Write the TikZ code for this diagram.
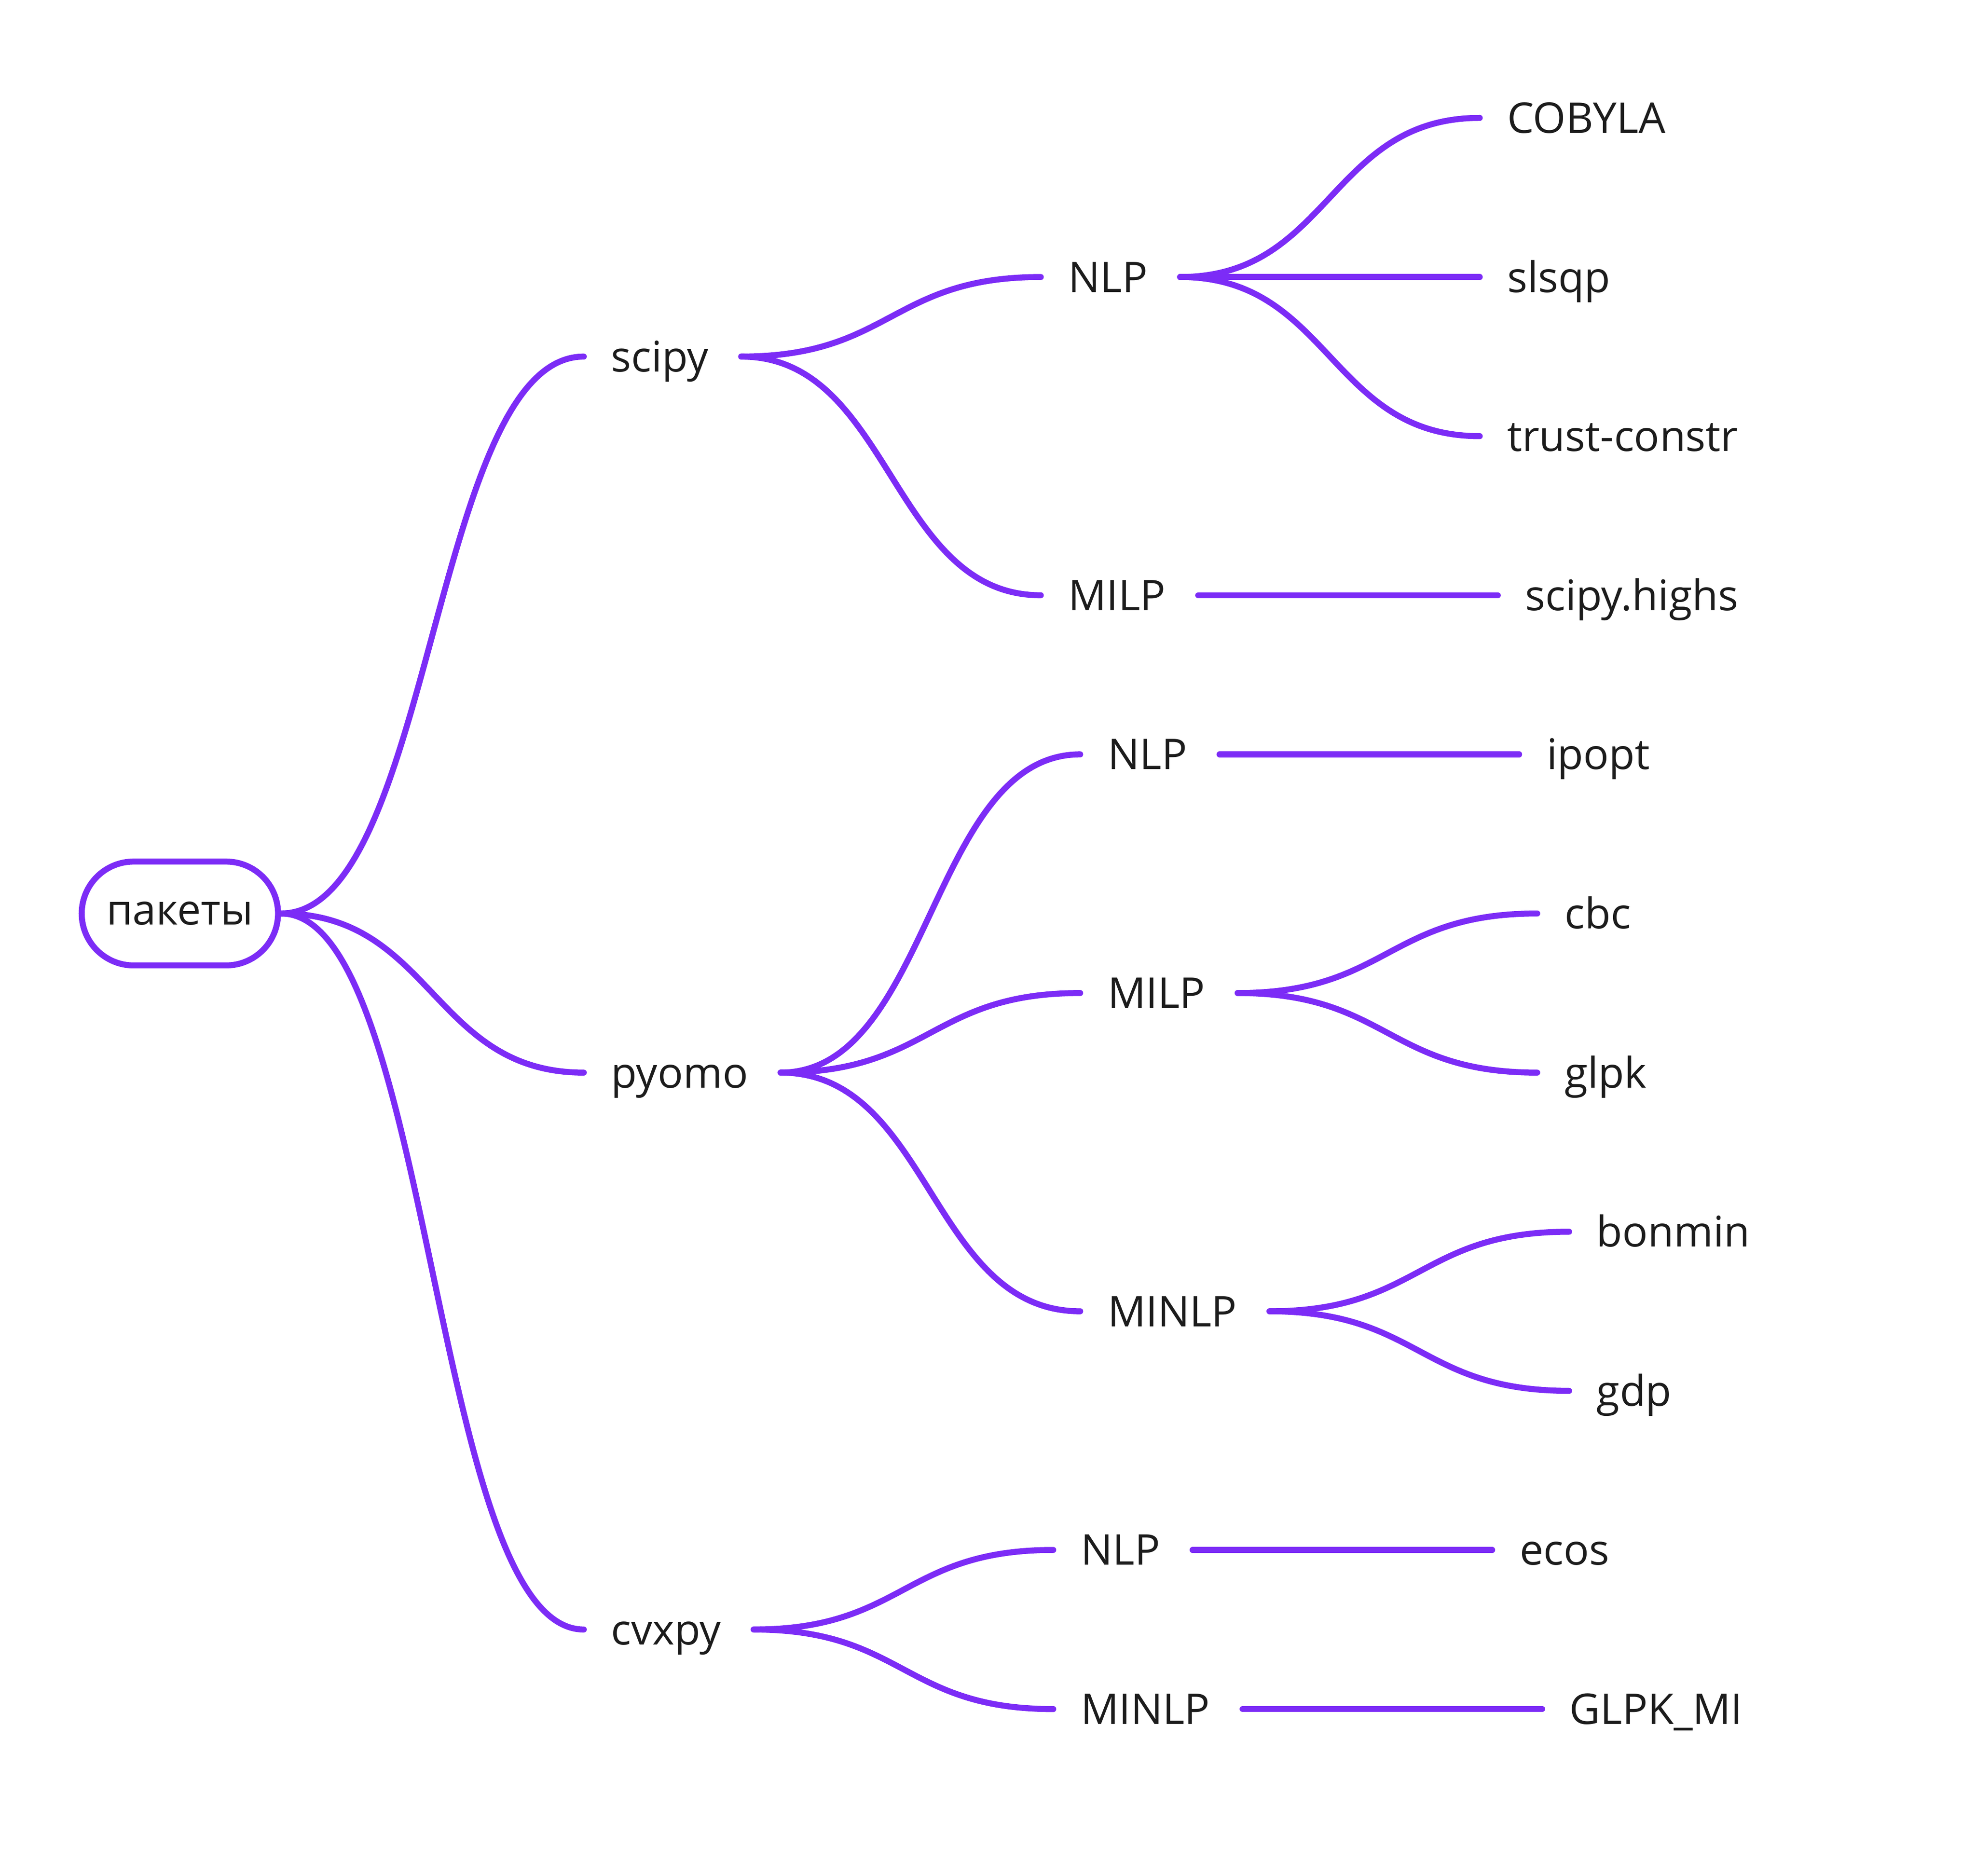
\documentclass[tikz,border=0pt]{standalone}
\usepackage{fontspec}
\setmainfont{Open Sans}
\usetikzlibrary{positioning,calc}
\definecolor{mmpurple}{RGB}{124,44,246}
\definecolor{mmtext}{RGB}{28,28,28}
\tikzset{
  topic/.style={draw=mmpurple,line width=1.35pt,rounded corners=0.41cm,minimum width=1.55cm,minimum height=0.82cm,inner sep=0pt,text height=5.1pt,text depth=0pt},
  item/.style={inner xsep=0.21cm,inner ysep=0pt,text height=6.8pt,text depth=0pt},
  branch/.style={draw=mmpurple,line width=1.35pt,line cap=round,
    to path={.. controls ($(\tikztostart)!0.5!(\tikztotarget |- \tikztostart)$)
      and ($(\tikztotarget)!0.5!(\tikztostart |- \tikztotarget)$) .. (\tikztotarget)}}
}

\begin{document}
\begin{tikzpicture}[every node/.style={font=\fontsize{9.5pt}{11pt}\selectfont,text=mmtext}]
  \def\dy{1.2564}
  \def\gap{2.405cm}
  \useasboundingbox (0,0) rectangle (15.60,-14.81);

  \node[topic] (pakety) at (1.42,-7.213) {пакеты};

  \node[item,right=2.39cm of pakety,yshift=3.5*\dy cm] (scipy) {scipy};
  \node[item,right=2.39cm of pakety,yshift=-1*\dy cm] (pyomo) {pyomo};
  \node[item,right=2.39cm of pakety,yshift=-4.5*\dy cm] (cvxpy) {cvxpy};

  \node[item,right=\gap of scipy,yshift=0.5*\dy cm] (snlp) {NLP};
  \node[item,right=\gap of scipy,yshift=-1.5*\dy cm] (smilp) {MILP};
  \node[item,right=\gap of pyomo,yshift=2*\dy cm] (pnlp) {NLP};
  \node[item,right=\gap of pyomo,yshift=0.5*\dy cm] (pmilp) {MILP};
  \node[item,right=\gap of pyomo,yshift=-1.5*\dy cm] (pminlp) {MINLP};
  \node[item,right=\gap of cvxpy,yshift=0.5*\dy cm] (cnlp) {NLP};
  \node[item,right=\gap of cvxpy,yshift=-0.5*\dy cm] (cminlp) {MINLP};

  \node[item,right=\gap of snlp,yshift=\dy cm] (cobyla) {COBYLA};
  \node[item,right=\gap of snlp] (slsqp) {slsqp};
  \node[item,right=\gap of snlp,yshift=-\dy cm] (trust) {trust-constr};
  \node[item,right=\gap of smilp] (highs) {scipy.highs};
  \node[item,right=\gap of pnlp] (ipopt) {ipopt};
  \node[item,right=\gap of pmilp,yshift=0.5*\dy cm] (cbc) {cbc};
  \node[item,right=\gap of pmilp,yshift=-0.5*\dy cm] (glpk) {glpk};
  \node[item,right=\gap of pminlp,yshift=0.5*\dy cm] (bonmin) {bonmin};
  \node[item,right=\gap of pminlp,yshift=-0.5*\dy cm] (gdp) {gdp};
  \node[item,right=\gap of cnlp] (ecos) {ecos};
  \node[item,right=\gap of cminlp] (glpkmi) {GLPK\_MI};

  \foreach \b in {scipy,pyomo,cvxpy}
    \draw[branch] (pakety.east) to (\b.west);
  \foreach \a/\b in {scipy/snlp,scipy/smilp,pyomo/pnlp,pyomo/pmilp,pyomo/pminlp,cvxpy/cnlp,cvxpy/cminlp,
      snlp/cobyla,snlp/slsqp,snlp/trust,smilp/highs,pnlp/ipopt,pmilp/cbc,pmilp/glpk,
      pminlp/bonmin,pminlp/gdp,cnlp/ecos,cminlp/glpkmi}
    \draw[branch] ([xshift=0.4mm]\a.east) to (\b.west);
\end{tikzpicture}
\end{document}
